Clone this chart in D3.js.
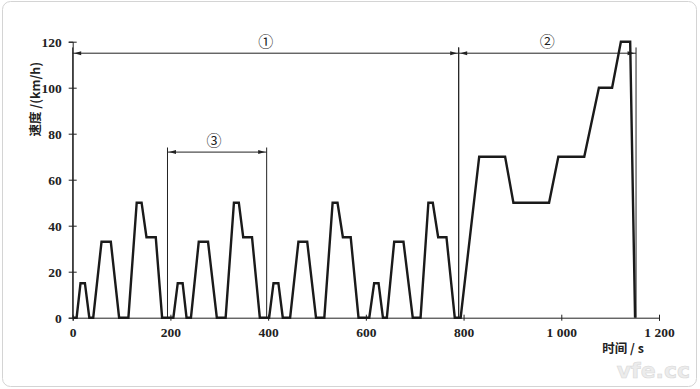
<!DOCTYPE html>
<html>
<head>
<meta charset="utf-8">
<script src="https://cdn.jsdelivr.net/npm/d3@7"></script>
<style>
  body { margin: 0; background: #fff; }
</style>
</head>
<body>
<div class="chart"></div>
<script>
// time (s) and speed (km/h) breakpoints
var times = [
  0, 8, 16, 25, 34, 42, 59, 78, 95, 114, 131, 141, 151, 170, 183,
  206, 215, 225, 233, 242, 258, 277, 295, 313, 330, 340, 349, 367, 383,
  402, 411, 421, 430, 445, 462, 480, 498, 515, 532, 542, 553, 569, 585,
  607, 617, 626, 635, 643, 658, 677, 696, 712, 728, 737, 748, 765, 782,
  794, 832, 885, 902, 975, 994, 1047, 1077, 1104, 1122, 1141, 1151
];
var speeds = [
  0, 0, 15, 15, 0, 0, 33, 33, 0, 0, 50, 50, 35, 35, 0,
  0, 15, 15, 0, 0, 33, 33, 0, 0, 50, 50, 35, 35, 0,
  0, 15, 15, 0, 0, 33, 33, 0, 0, 50, 50, 35, 35, 0,
  0, 15, 15, 0, 0, 33, 33, 0, 0, 50, 50, 35, 35, 0,
  0, 70, 70, 50, 50, 70, 70, 100, 100, 120, 120, 0
];

var xTicks = [0, 200, 400, 600, 800, 1000, 1200];
var xTickLabels = ["0", "200", "400", "600", "800", "1 000", "1 200"];
var yTicks = [0, 20, 40, 60, 80, 100, 120];

// dimension brackets: label, start, end, level (km/h), top of end lines
var spanLabels = ["①", "②", "③"];
var spanStart = [0, 790, 194];
var spanEnd = [790, 1153, 397];
var spanLevel = [115, 115, 72];
var spanTop = [117.5, 117.5, 74];

var svgWidth = 700;
var svgHeight = 389;

var svg = d3.select(".chart")
  .append("svg")
  .attr("width", svgWidth)
  .attr("height", svgHeight);

// light frame round the picture
svg.append("rect")
  .attr("x", 2.5).attr("y", 1.5)
  .attr("width", 694).attr("height", 385)
  .attr("rx", 8)
  .attr("fill", "none")
  .attr("stroke", "#d4d4d4");

var x = d3.scaleLinear().domain([0, 1200]).range([72.7, 659]);
var y = d3.scaleLinear().domain([0, 120]).range([317.7, 41.7]);

// x axis
var xAxis = svg.append("g")
  .attr("transform", `translate(0, ${y(0)})`)
  .call(d3.axisBottom(x)
    .tickValues(xTicks)
    .tickSizeOuter(0)
    .tickSize(3)
    .tickPadding(7)
    .tickFormat((d, i) => xTickLabels[i]));
xAxis.selectAll(".tick line").attr("y1", -3).attr("y2", 3).attr("stroke", "#222");
xAxis.select(".domain").attr("stroke", "#222");

// y axis
var yAxis = svg.append("g")
  .attr("transform", `translate(${x(0)}, 0)`)
  .call(d3.axisLeft(y)
    .tickValues(yTicks)
    .tickSizeOuter(0)
    .tickSize(4)
    .tickPadding(7));
yAxis.selectAll(".tick line").attr("x1", -4).attr("x2", 4).attr("stroke", "#222");
yAxis.select(".domain").attr("stroke", "#222");

svg.selectAll(".tick text")
  .style("font-family", "'Liberation Serif', serif")
  .style("font-weight", "bold")
  .style("font-size", "13.5px")
  .attr("fill", "#222");

// axis titles
svg.append("text")
  .attr("transform", `translate(37, ${y(95)}) rotate(-90)`)
  .attr("text-anchor", "middle")
  .attr("dominant-baseline", "middle")
  .style("font-family", "'Noto Sans CJK SC', sans-serif")
  .style("font-weight", "bold")
  .style("font-size", "12.5px")
  .attr("fill", "#222")
  .text("速度 /(km/h)");

svg.append("text")
  .attr("x", 623).attr("y", 353)
  .attr("text-anchor", "middle")
  .style("font-family", "'Noto Sans CJK SC', sans-serif")
  .style("font-weight", "bold")
  .style("font-size", "12.5px")
  .attr("fill", "#222")
  .text("时间 / s");

// dimension brackets
function arrowHead(px, py, dir) {
  // dir: -1 points left, 1 points right
  return `M${px},${py} L${px - dir * 7},${py - 2} L${px - dir * 7},${py + 2} Z`;
}

spanLabels.forEach(function(lab, i) {
  var x0 = x(spanStart[i]), x1 = x(spanEnd[i]), yl = y(spanLevel[i]);
  svg.append("line")
    .attr("x1", x0).attr("x2", x1)
    .attr("y1", yl).attr("y2", yl)
    .attr("stroke", "#222").attr("stroke-width", 1);
  [x0, x1].forEach(function(xx) {
    svg.append("line")
      .attr("x1", xx).attr("x2", xx)
      .attr("y1", y(spanTop[i])).attr("y2", y(0))
      .attr("stroke", "#222").attr("stroke-width", 1);
  });
  svg.append("path").attr("d", arrowHead(x0 + 1.5, yl, -1)).attr("fill", "#222");
  svg.append("path").attr("d", arrowHead(x1 - 1.5, yl, 1)).attr("fill", "#222");
  svg.append("text")
    .attr("x", (x0 + x1) / 2 - (i == 2 ? 3 : 0))
    .attr("y", yl - 6)
    .attr("text-anchor", "middle")
    .style("font-family", "'Noto Sans CJK SC', sans-serif")
    .style("font-size", "15px")
    .attr("fill", "#222")
    .text(lab);
});

// speed trace
var line = d3.line()
  .x((d, i) => x(times[i]))
  .y(d => y(d));

svg.append("path")
  .datum(speeds)
  .attr("d", line)
  .attr("fill", "none")
  .attr("stroke", "#1a1a1a")
  .attr("stroke-width", 2.4)
  .attr("stroke-linejoin", "miter");

// watermark
svg.append("text")
  .attr("x", 690).attr("y", 378)
  .attr("text-anchor", "end")
  .style("font-family", "'DejaVu Sans', sans-serif")
  .style("font-weight", "bold")
  .style("font-size", "22px")
  .attr("fill", "#ececec")
  .attr("stroke", "#d8d8d8")
  .attr("stroke-width", 0.6)
  .text("vfe.cc");
</script>
</body>
</html>
